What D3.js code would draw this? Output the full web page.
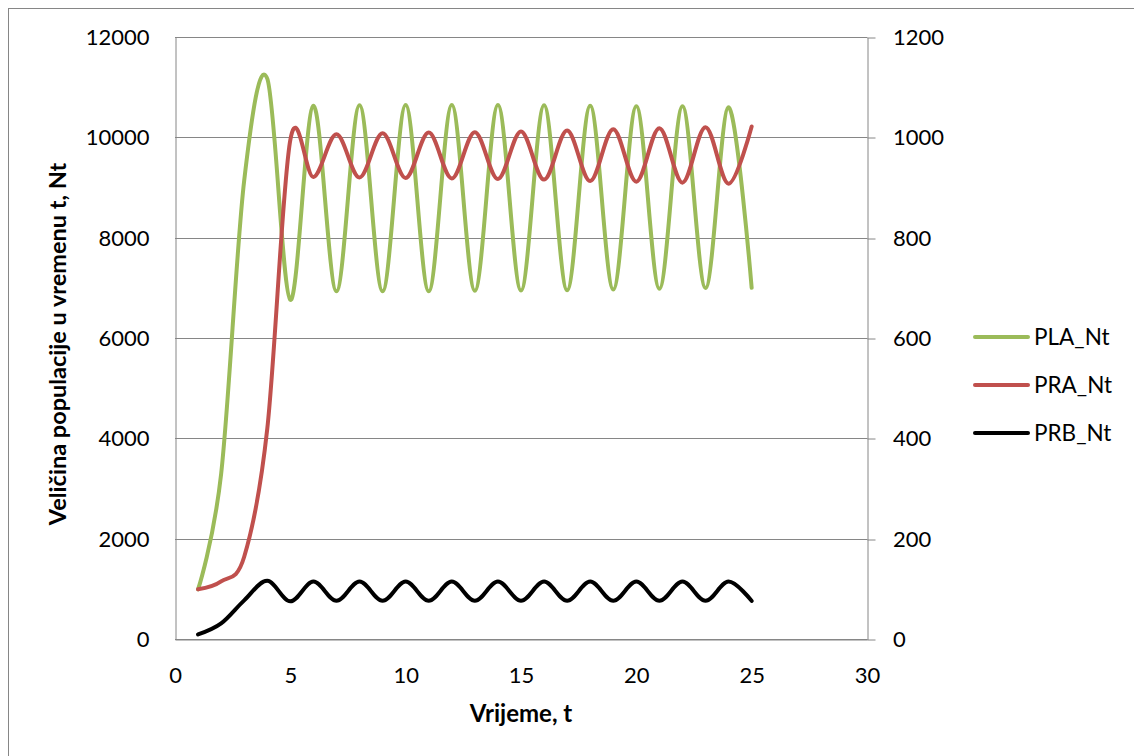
<!DOCTYPE html>
<html><head><meta charset="utf-8">
<script src="https://cdn.jsdelivr.net/npm/d3@7"></script>
<style>
body{margin:0;background:#fff}
svg{display:block}
text{font-family:Lato,"Open Sans",sans-serif;fill:#000}
</style>
</head><body>
<svg id="chart" width="1134" height="756"></svg>
<script>
// ---- data ----
const times = [1,2,3,4,5,6,7,8,9,10,11,12,13,14,15,16,17,18,19,20,21,22,23,24,25];
// primary axis
const plaNt = [1000,3300,9150,11180,6770,10640,6940,10650,6940,10655,6940,10655,6950,10655,6955,10650,6960,10640,6975,10630,6990,10630,7005,10610,7010];
// secondary axis
const praNt = [100,116,165,420,996,922,1007,921,1009,920,1010.6,919,1011.3,918,1012.7,916.7,1014.7,914,1017.3,912.7,1019.3,910.7,1021.3,908.7,1022.5];
const prbNt = [10,32,78,117,76,115.5,77,115.5,77,115.5,77,115.5,77,115.5,77,115.5,77,115.5,77,115.5,77,115.5,77,115.5,77];

const xTicks = [0,5,10,15,20,25,30];
const leftTicks = [0,2000,4000,6000,8000,10000,12000];
const rightTicks = [0,200,400,600,800,1000,1200];
const seriesNames = ["PLA_Nt","PRA_Nt","PRB_Nt"];
const seriesColors = ["#9BBB59","#C0504D","#000000"];
const xTitle = "Vrijeme, t";
const yTitle = "Veličina populacije u vremenu t, Nt";

// ---- layout ----
const svg = d3.select("#chart");
const gridColor = "#868686";
const L = 175, R = 867, T = 37.5, B = 639.5;

const x = d3.scaleLinear().domain([0,30]).range([L,R]);
const yL = d3.scaleLinear().domain([0,12000]).range([B,T]);
const yR = d3.scaleLinear().domain([0,1200]).range([B,T]);
const crisp = v => Math.round(v - 0.5) + 0.5;

// chart border
svg.append("rect").attr("x",8.5).attr("y",8.5).attr("width",1200).attr("height",800)
  .attr("fill","none").attr("stroke",gridColor).attr("stroke-width",1);

// gridlines
svg.append("g").selectAll("line").data(leftTicks).join("line")
  .attr("x1",L).attr("x2",R+0.5)
  .attr("y1",d=>crisp(yL(d))).attr("y2",d=>crisp(yL(d)))
  .attr("stroke",gridColor).attr("stroke-width",1);

// left axis
const gL = svg.append("g").attr("transform",`translate(${L+0.5},0)`)
  .call(d3.axisLeft(yL).tickValues(leftTicks).tickFormat(d3.format("d")).tickSize(0).tickSizeOuter(0).tickPadding(26));
gL.select(".domain").attr("stroke",gridColor);
gL.selectAll("text").attr("font-size",22).attr("font-family","Lato");

// bottom axis
const gB = svg.append("g").attr("transform",`translate(0,${B})`)
  .call(d3.axisBottom(x).tickValues(xTicks).tickFormat(d3.format("d")).tickSize(0).tickSizeOuter(0).tickPadding(27.5));
gB.select(".domain").attr("stroke",gridColor);
gB.selectAll("text").attr("font-size",22).attr("font-family","Lato");

// right axis
const gR = svg.append("g").attr("transform",`translate(${R+0.5},0)`)
  .call(d3.axisRight(yR).tickValues(rightTicks).tickFormat(d3.format("d")).tickSize(8).tickSizeOuter(0).tickPadding(17.5));
gR.select(".domain").attr("stroke",gridColor);
gR.selectAll(".tick line").attr("stroke",gridColor).attr("transform",d=>`translate(0,${crisp(yR(d))-yR(d)})`);
gR.selectAll("text").attr("font-size",22).attr("font-family","Lato");

// series
const curve = d3.curveCardinal.tension(0);
const series = [
  {name:seriesNames[0], vals:plaNt, y:yL, color:seriesColors[0]},
  {name:seriesNames[1], vals:praNt, y:yR, color:seriesColors[1]},
  {name:seriesNames[2], vals:prbNt, y:yR, color:seriesColors[2]}
];
series.forEach(s=>{
  const line = d3.line().x((d,i)=>x(times[i])).y(d=>s.y(d)).curve(curve);
  svg.append("path").datum(s.vals).attr("d",line)
    .attr("fill","none").attr("stroke",s.color).attr("stroke-width",4)
    .attr("stroke-linejoin","round").attr("stroke-linecap","round");
});

// axis titles
svg.append("text").attr("x",(L+R)/2).attr("y",722).attr("text-anchor","middle")
  .attr("font-size",24).attr("font-weight","bold").text(xTitle);
svg.append("text").attr("transform",`translate(66,344) rotate(-90)`).attr("text-anchor","middle")
  .attr("font-size",23.5).attr("font-weight","bold").text(yTitle);

// legend
const legY = [337,385,433];
const leg = svg.append("g");
seriesNames.forEach((n,i)=>{
  leg.append("line").attr("x1",975).attr("x2",1028).attr("y1",legY[i]).attr("y2",legY[i])
    .attr("stroke",seriesColors[i]).attr("stroke-width",4).attr("stroke-linecap","round");
  leg.append("text").attr("x",1034).attr("y",legY[i]).attr("dy","0.36em")
    .attr("font-size",22.5).text(n);
});
</script>
</body></html>
